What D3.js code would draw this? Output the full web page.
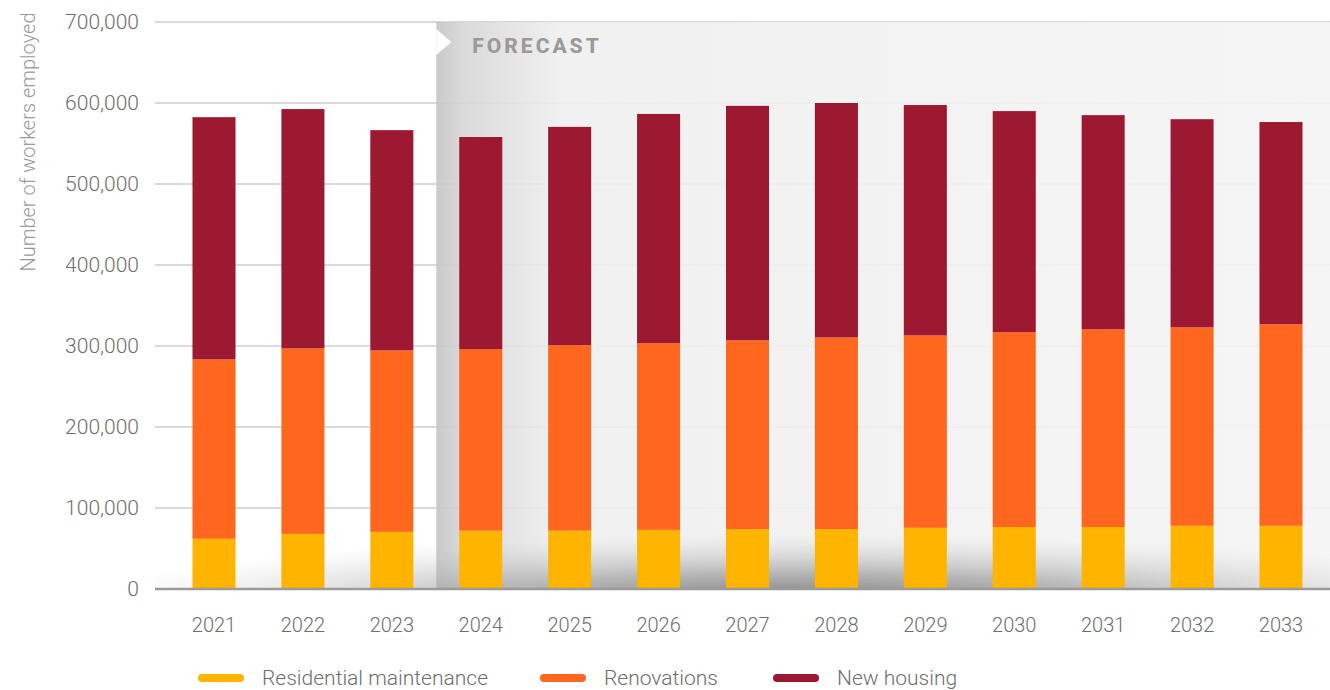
<!DOCTYPE html>
<html>
<head>
<meta charset="utf-8">
<script src="https://cdn.jsdelivr.net/npm/d3@7"></script>
<style>
  body { margin: 0; background: #fff; }
  text { font-family: Roboto, "Noto Sans", sans-serif; }
</style>
</head>
<body>
<div id="container"></div>
<script>
const years = ["2021","2022","2023","2024","2025","2026","2027","2028","2029","2030","2031","2032","2033"];
const maintenance = [62000, 68000, 70500, 72000, 72000, 73000, 74000, 74000, 75500, 76500, 76500, 78000, 78000];
const renovations = [221500, 229000, 224000, 224000, 229000, 230500, 233000, 236500, 237500, 240500, 244000, 245000, 249000];
const newHousing = [299000, 295500, 272000, 262000, 269500, 283000, 289500, 289500, 284500, 273000, 264500, 257000, 249500];
const yTicks = [0, 100000, 200000, 300000, 400000, 500000, 600000, 700000];
const seriesKeys = ["maintenance", "renovations", "newHousing"];
const seriesNames = ["Residential maintenance", "Renovations", "New housing"];
const seriesColors = ["#FFB400", "#FF671F", "#9D1931"];
const firstForecast = "2024";

const w = 1330, h = 690;
const plotLeft = 155, plotRight = 1330, plotTop = 22, plotBottom = 589;

const rows = years.map((y, i) => ({year: y, maintenance: maintenance[i], renovations: renovations[i], newHousing: newHousing[i]}));
const stacked = d3.stack().keys(seriesKeys)(rows);

const svg = d3.select("#container").append("svg").attr("width", w).attr("height", h);
const defs = svg.append("defs");

const xScale = d3.scaleBand().domain(years).range([170, 1325]).paddingInner(0.516).paddingOuter(0.253);
const yScale = d3.scaleLinear().domain([0, 700000]).range([plotBottom, plotTop]);

// gridlines
svg.append("g").selectAll("line").data(yTicks.filter(d => d > 0)).enter().append("line")
  .attr("x1", plotLeft).attr("x2", plotRight)
  .attr("y1", d => yScale(d)).attr("y2", d => yScale(d))
  .attr("stroke", "#b4b4b4").attr("stroke-width", 1.2);

// forecast zone
const fx = (xScale(years[years.indexOf(firstForecast) - 1]) + xScale.bandwidth() + xScale(firstForecast)) / 2;
const fg = defs.append("linearGradient").attr("id", "fgrad").attr("x1", 0).attr("x2", 1).attr("y1", 0).attr("y2", 0);
fg.append("stop").attr("offset", 0).attr("stop-color", "#c4c4c4");
fg.append("stop").attr("offset", 0.03).attr("stop-color", "#d6d6d6");
fg.append("stop").attr("offset", 0.14).attr("stop-color", "#efefef");
fg.append("stop").attr("offset", 1).attr("stop-color", "#f4f4f4");
svg.append("rect").attr("x", fx).attr("y", plotTop).attr("width", plotRight - fx).attr("height", plotBottom - plotTop)
  .attr("fill", "url(#fgrad)").attr("opacity", 0.9);
svg.append("path")
  .attr("d", `M${fx},${plotTop + 7} L${fx + 15},${plotTop + 20} L${fx},${plotTop + 33} Z`)
  .attr("fill", "#fff");
svg.append("text").attr("x", fx + 36).attr("y", 53)
  .attr("font-family", "'Open Sans', sans-serif").attr("font-weight", 800)
  .attr("font-size", 21).attr("letter-spacing", 3).attr("fill", "#9a9a9a")
  .text("FORECAST");

// bottom shadow
const sg = defs.append("radialGradient").attr("id", "shadow");
sg.append("stop").attr("offset", 0).attr("stop-color", "#606060").attr("stop-opacity", 0.9);
sg.append("stop").attr("offset", 0.45).attr("stop-color", "#909090").attr("stop-opacity", 0.6);
sg.append("stop").attr("offset", 1).attr("stop-color", "#ccc").attr("stop-opacity", 0);
defs.append("clipPath").attr("id", "plotclip").append("rect")
  .attr("x", plotLeft).attr("y", plotTop).attr("width", plotRight - plotLeft).attr("height", plotBottom - plotTop);
svg.append("ellipse").attr("clip-path", "url(#plotclip)")
  .attr("cx", 800).attr("cy", 604).attr("rx", 720).attr("ry", 70)
  .attr("fill", "url(#shadow)");

// bars
const layers = svg.append("g").selectAll("g").data(stacked).enter().append("g")
  .attr("fill", (d, i) => seriesColors[i]);
layers.selectAll("rect").data(d => d).enter().append("rect")
  .attr("x", d => xScale(d.data.year))
  .attr("width", xScale.bandwidth())
  .attr("y", d => yScale(d[1]))
  .attr("height", d => yScale(d[0]) - yScale(d[1]));

// baseline
svg.append("line").attr("x1", plotLeft).attr("x2", plotRight).attr("y1", plotBottom).attr("y2", plotBottom)
  .attr("stroke", "#9a9a9a").attr("stroke-width", 2.5);

// axes
const yAxis = d3.axisLeft(yScale).tickValues(yTicks).tickFormat(d3.format(",")).tickSize(0).tickPadding(16);
const yAxisGroup = svg.append("g").attr("transform", `translate(${plotLeft}, 0)`).call(yAxis);
yAxisGroup.select(".domain").remove();
yAxisGroup.selectAll("text").attr("font-family", "Roboto").attr("font-weight", 300)
  .attr("font-size", 21).attr("fill", "#6e6e6e").attr("dy", "0.32em");

const xAxis = d3.axisBottom(xScale).tickSize(0).tickPadding(29);
const xAxisGroup = svg.append("g").attr("transform", `translate(0, ${plotBottom})`).call(xAxis);
xAxisGroup.select(".domain").remove();
xAxisGroup.selectAll("text").attr("font-family", "Roboto").attr("font-weight", 300)
  .attr("font-size", 20).attr("fill", "#6e6e6e");

svg.append("text")
  .attr("transform", "rotate(-90)")
  .attr("x", -142).attr("y", 35)
  .attr("text-anchor", "middle")
  .attr("font-weight", 300).attr("font-size", 20).attr("fill", "#9a9a9a")
  .text("Number of workers employed");

// legend
const legendX = [198, 540, 773];
const legend = svg.append("g").selectAll("g").data(seriesNames).enter().append("g")
  .attr("transform", (d, i) => `translate(${legendX[i]}, 678)`);
legend.append("line").attr("x1", 4).attr("x2", 42).attr("y1", 0).attr("y2", 0)
  .attr("stroke", (d, i) => seriesColors[i]).attr("stroke-width", 8).attr("stroke-linecap", "round");
legend.append("text").attr("x", 64).attr("y", 0).attr("dy", "0.35em")
  .attr("font-weight", 300).attr("font-size", 21).attr("fill", "#6e6e6e")
  .text(d => d);
</script>
</body>
</html>
